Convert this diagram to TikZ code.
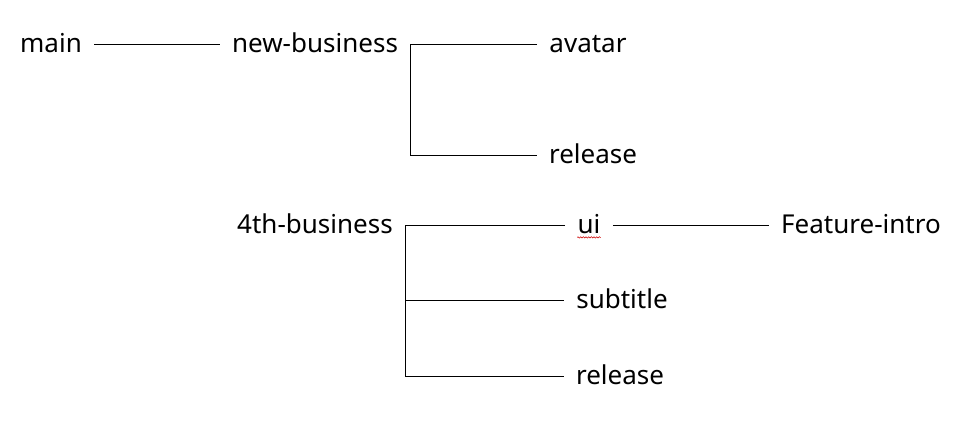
\documentclass[tikz,border=0pt]{standalone}
\usepackage{fontspec}
\setmainfont{Noto Sans}
\usetikzlibrary{decorations.pathmorphing}
\begin{document}
\begin{tikzpicture}[x=0.75pt,y=-0.75pt,line width=.6pt,
    br/.style={font=\fontsize{19.5}{23}\selectfont,inner xsep=9pt,inner ysep=0pt,text height=13pt,text depth=0pt}]
   \useasboundingbox (0,0) rectangle (975,432);

      \path (51,44) node[br] (main) {main};
      \path (315,44) node[br] (newb) {new-business};
      \path (588,44) node[br] (avatar) {avatar};
      \path (593,155) node[br] (rel1) {release};

      \path (315,225) node[br] (fourth) {4th-business};
      \path (589,225) node[br] (ui) {ui};
      \path (861,225) node[br] (feat) {Feature-intro};
      \path (622,300) node[br] (sub) {subtitle};
      \path (620,376) node[br] (rel2) {release};

      \draw (main) -- (newb);
      \draw (avatar.west) -- (newb.east) |- (rel1.west);
      \draw (ui.west) -- (fourth.east) |- (sub.west);
      \draw (fourth.east) |- (rel2.west);
      \draw (ui) -- (feat);

      % spell check mark
      \draw[red!80!black,line width=.4pt,decorate,decoration={snake,amplitude=.5pt,segment length=2pt}]
         ([xshift=9pt,yshift=-2.5pt]ui.south west) -- ([xshift=-9pt,yshift=-2.5pt]ui.south east);

\end{tikzpicture}
\end{document}
